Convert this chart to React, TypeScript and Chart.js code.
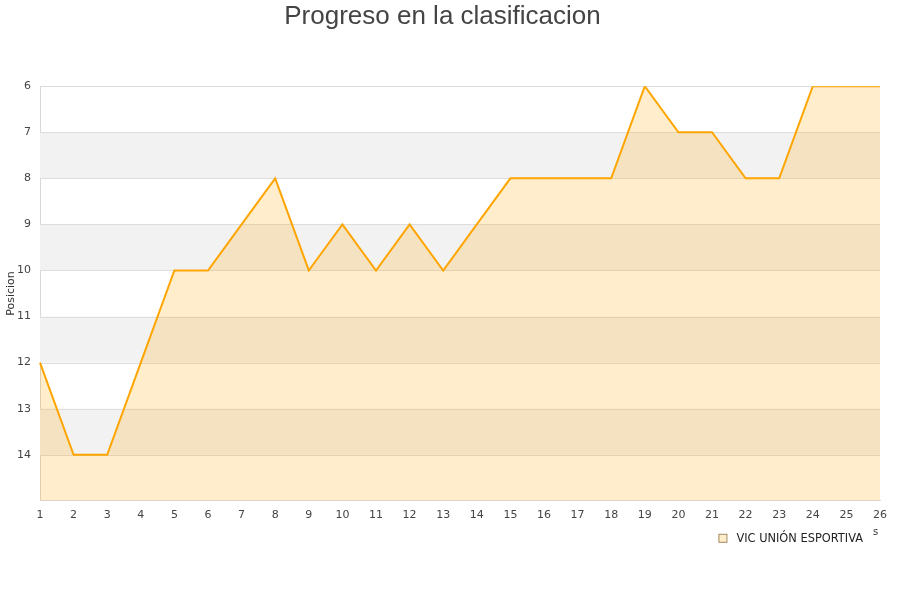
import React, { useEffect, useRef } from "react";
import { Chart, registerables } from "chart.js";

Chart.register(...registerables);

const jornadas: string[] = ["1","2","3","4","5","6","7","8","9","10","11","12","13","14","15","16","17","18","19","20","21","22","23","24","25","26"];
const posiciones: number[] = [12,14,14,12,10,10,9,8,10,9,10,9,10,9,8,8,8,8,6,7,7,8,8,6,6,6];
const equipo = "VIC UNIÓN ESPORTIVA";
const titulo = "Progreso en la clasificacion";
const ejeY = "Posicion";
const bandas: [number, number][] = [[7, 8], [9, 10], [11, 12], [13, 14]];

const bandPlugin = {
  id: "bands",
  beforeDatasetsDraw(chart: any) {
    const { ctx, chartArea, scales } = chart;
    const y = scales.y;
    ctx.save();
    ctx.fillStyle = "#f2f2f2";
    for (const [a, b] of bandas) {
      const y1 = y.getPixelForValue(a);
      const y2 = y.getPixelForValue(b);
      ctx.fillRect(chartArea.left, Math.min(y1, y2), chartArea.right - chartArea.left, Math.abs(y2 - y1));
    }
    ctx.strokeStyle = "#dddddd";
    ctx.lineWidth = 1;
    for (let v = 6; v <= 14; v++) {
      const p = Math.round(y.getPixelForValue(v)) + 0.5;
      ctx.beginPath();
      ctx.moveTo(chartArea.left, p);
      ctx.lineTo(chartArea.right, p);
      ctx.stroke();
    }
    ctx.restore();
  },
};

const legendPlugin = {
  id: "customLegend",
  afterDraw(chart: any) {
    const { ctx, chartArea } = chart;
    const ds = chart.data.datasets[0];
    ctx.save();
    ctx.font = "11.4px 'DejaVu Sans'";
    ctx.textBaseline = "middle";
    ctx.textAlign = "left";
    const cy = chartArea.bottom + 38;
    const textW = ctx.measureText(ds.label).width;
    const textX = chartArea.right - 17 - textW;
    const boxX = textX - 18;
    ctx.fillStyle = "#ffedcc";
    ctx.fillRect(boxX, cy - 4, 8, 8);
    ctx.strokeStyle = "#a08a60";
    ctx.lineWidth = 1;
    ctx.strokeRect(boxX + 0.5, cy - 4.5, 8, 8);
    ctx.fillStyle = "#222222";
    ctx.fillText(ds.label, textX, cy + 0.5);
    ctx.font = "10px 'DejaVu Sans'";
    ctx.fillStyle = "#333333";
    ctx.fillText("s", chartArea.right - 7, chartArea.bottom + 32);
    ctx.restore();
  },
};

export default function App() {
  const ref = useRef<HTMLCanvasElement>(null);
  useEffect(() => {
    if (!ref.current) return;
    const chart = new Chart(ref.current, {
      type: "line",
      data: {
        labels: jornadas,
        datasets: [
          {
            label: equipo,
            data: posiciones,
            borderColor: "#ffa500",
            backgroundColor: "rgba(255,165,0,0.2)",
            borderWidth: 2,
            pointRadius: 0,
            pointHoverRadius: 0,
            tension: 0,
            fill: { value: 15 },
          },
        ],
      },
      plugins: [bandPlugin, legendPlugin],
      options: {
        animation: false,
        responsive: false,
        maintainAspectRatio: false,
        layout: { padding: { left: 5, right: 20, top: 1, bottom: 70 } },
        scales: {
          x: {
            offset: false,
            grid: { display: false, drawTicks: false },
            border: { display: true, color: "#d8d8d8" },
            ticks: {
              color: "#444444",
              font: { family: "DejaVu Sans", size: 11 },
              padding: 8,
              maxRotation: 0,
              autoSkip: false,
            },
          },
          y: {
            reverse: true,
            min: 6,
            max: 15,
            afterFit: (s: any) => {
              s.width = 35;
            },
            grid: { display: false, drawTicks: false },
            border: { display: true, color: "#d8d8d8" },
            ticks: {
              stepSize: 1,
              color: "#444444",
              font: { family: "DejaVu Sans", size: 11 },
              padding: 9,
              callback: (v: any) => (Number(v) === 15 ? "" : String(v)),
            },
            title: {
              display: true,
              text: ejeY,
              color: "#333333",
              font: { family: "DejaVu Sans", size: 11 },
              padding: { top: 0, bottom: 0 },
            },
          },
        },
        plugins: {
          title: {
            display: true,
            text: titulo,
            color: "#444444",
            font: { family: "Liberation Sans", size: 26, weight: "normal" },
            padding: { top: 0, bottom: 54 },
          },
          legend: { display: false },
          tooltip: { enabled: false },
        },
      },
    });
    return () => chart.destroy();
  }, []);
  return (
    <div style={{ position: "fixed", left: 0, top: 0, width: 900, height: 600, background: "#fff" }}>
      <canvas ref={ref} width={900} height={600} style={{ width: 900, height: 600 }} />
    </div>
  );
}
